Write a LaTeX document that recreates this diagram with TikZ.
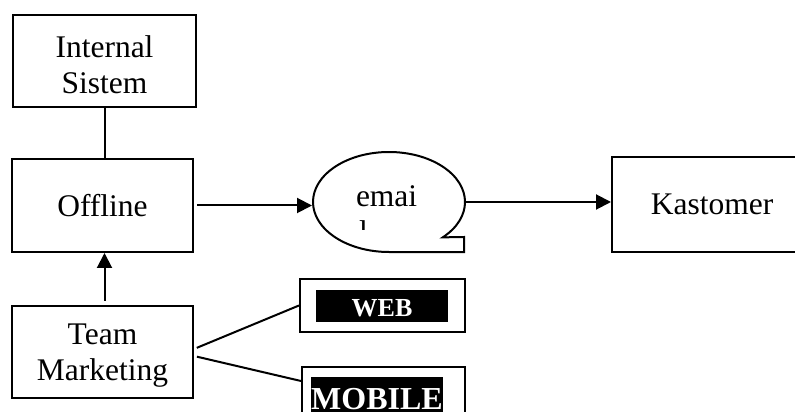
\documentclass[tikz,border=0pt]{standalone}
\usepackage{fontspec}
\setmainfont{Liberation Serif}
\usepackage{tikz}
\usetikzlibrary{arrows.meta,shapes.geometric}

\begin{document}
\begin{tikzpicture}[x=1pt,y=1pt,line width=2pt,
    box/.style={draw,rectangle,align=center,inner sep=0pt,font=\fontsize{31.5}{36}\selectfont},
    outbox/.style={draw,rectangle,minimum width=165pt,minimum height=53pt,inner sep=0pt},
    tag/.style={fill=black,text=white,inner sep=0pt,font=\bfseries\fontsize{26}{30}\selectfont},
    arr/.style={-{Triangle[length=15pt,width=15pt]}}]

    \useasboundingbox (0,0) rectangle (795,412);

    \node[box,minimum width=183pt,minimum height=92pt,text height=65pt] (1) at (104.5,351) {Internal\\Sistem};
    \node[box,minimum width=181pt,minimum height=93pt] (2) at (102.5,206.5) {Offline};
    \node[box,minimum width=181pt,minimum height=92pt,text depth=0pt] (3) at (102.5,60) {Team\\Marketing};
    \node[ellipse,minimum width=152pt,minimum height=100pt] (4) at (389,210) {};
    \node[box,minimum width=200pt,minimum height=95pt] (5) at (712,207.5) {Kastomer};
    \node[outbox] (6) at (382.5,106.5) {};
    \node[outbox,minimum width=163pt] (7) at (383.5,18.5) {};
    \node[tag,minimum width=132pt,minimum height=32pt,text height=21.4pt,text depth=0pt] (8) at (382,106) {WEB};
    \node[tag,font=\bfseries\fontsize{32}{36}\selectfont,minimum width=132pt,minimum height=37pt,
          text height=28.2pt,text depth=0pt] (9) at (377,16.5) {MOBILE};

    % callout round the email text
    \draw ([shift={(53.74pt,-35.36pt)}]4.center)
        arc[start angle=-45,end angle=270,x radius=76pt,y radius=50pt]
        -- ++(75,0) -- ++(0,15) -- cycle;
    \node[anchor=base west,inner sep=0pt,font=\fontsize{31.5}{36}\selectfont] (10) at (355,205) {emai};
    \begin{scope}
        \clip (350,182) rectangle (372,191);
        \node[anchor=base west,inner sep=0pt,font=\fontsize{31.5}{36}\selectfont] (11) at (358,169) {l};
    \end{scope}

    \draw (1.south) -- (1.south |- 2.north);
    \draw[arr,shorten <=4pt] (1.south |- 3.north) -- (1.south |- 2.south);
    \draw[arr,shorten <=3pt] (2.east) -- (2.east -| 4.west);
    \draw[arr] (4.east) -- (4.east -| 5.west);
    \draw[shorten <=3pt] ([yshift=3pt]3.east) -- (6.west);
    \draw[shorten <=3pt] ([yshift=-4pt]3.east) -- ([yshift=-15pt]7.north west);

%   \draw[red] (4.center) ellipse (76pt and 50pt);
\end{tikzpicture}
\end{document}
